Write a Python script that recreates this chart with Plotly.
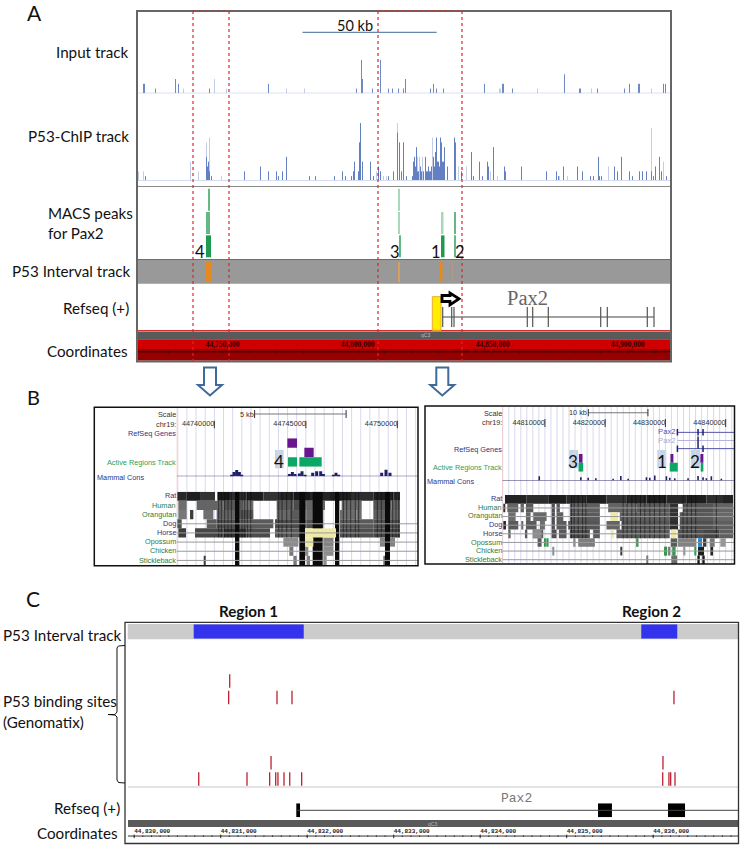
import plotly.graph_objects as go

W, H = 742, 847
LABEL_FONT = "Lato"
SANS = "Liberation Sans"

# ---------- Panel A data: display-bin index (bin = 1 screen column) and read counts ----------
A_START_KB = 44718.3
A_KB_PER_BIN = 1 / 2.7
A_BINS_TOTAL = 534

input_dark_bins = [6, 7, 18, 38, 41, 72, 131, 219, 224, 225, 235, 243, 251, 255, 261, 266, 268, 293, 296, 299, 306, 347, 365, 366, 375, 427, 442, 443, 460, 487, 492, 501, 502, 526, 528]
input_dark_counts = [2, 2, 1, 3, 2, 1, 2, 1, 7, 3, 1, 7, 1, 1, 1, 1, 3, 1, 2, 1, 1, 2, 2, 2, 1, 4, 1, 1, 1, 1, 2, 2, 2, 2, 2]
input_light_bins = [46, 77, 89, 149, 167, 362, 363, 400, 454, 514]
input_light_counts = [1, 3, 1, 1, 1, 1, 1, 1, 1, 1]

chip_light_bins = [1, 6, 53, 61, 69, 72, 84, 239, 246, 249, 260, 280, 282, 285, 295, 321, 329, 353, 360, 422, 430, 471, 514, 526]
chip_light_counts = [2, 2, 4, 2, 8, 9, 1, 2, 1, 1, 12, 5, 5, 5, 9, 3, 3, 2, 1, 1, 1, 3, 11, 4]
chip_dark_bins = [8, 69, 70, 71, 72, 74, 107, 123, 131, 139, 141, 145, 149, 172, 178, 197, 205, 208, 214, 216, 217, 221, 222, 223, 225, 233, 236, 241, 243, 251, 256, 260, 262, 264, 266, 269, 275, 276, 277, 278, 279, 280, 281, 283, 284, 286, 288, 289, 290, 291, 292, 293, 294, 296, 297, 298, 299, 300, 301, 302, 303, 304, 305, 306, 307, 310, 317, 318, 324, 334, 336, 342, 345, 350, 351, 356, 367, 368, 384, 409, 419, 421, 426, 440, 445, 453, 456, 461, 462, 464, 477, 480, 484, 492, 495, 502, 505, 509, 514, 516, 518, 522, 524, 529]
chip_dark_counts = [1, 5, 3, 4, 2, 1, 2, 3, 2, 2, 1, 2, 5, 1, 1, 1, 2, 1, 1, 2, 4, 2, 8, 12, 4, 4, 1, 3, 2, 1, 2, 10, 8, 2, 8, 1, 1, 4, 5, 3, 7, 2, 2, 3, 2, 2, 5, 2, 2, 3, 2, 2, 3, 5, 3, 6, 9, 4, 4, 3, 9, 8, 4, 4, 7, 3, 9, 8, 2, 6, 1, 4, 1, 4, 3, 7, 3, 2, 3, 2, 2, 1, 3, 3, 2, 1, 1, 5, 1, 1, 3, 2, 5, 2, 1, 2, 2, 2, 2, 1, 3, 5, 2, 1]

macs_row = [2, 1, 1, 0, 2, 1, 0, 1, 0, 1, 0]
macs_start = [71, 69, 71, 69, 261.5, 261.5, 262.5, 304, 304, 317.3, 317.3]
macs_end = [73, 70.3, 73, 74, 262.5, 262.5, 263.5, 306.5, 307.5, 318.3, 318.3]
macs_tone = ["mid", "mid", "mid", "dark", "pale", "pale", "mid", "pale", "dark", "mid", "mid"]

orange_start = [69, 261.5, 302.5, 315.2]
orange_end = [74, 262.8, 305.5, 316]
orange_tone = ["#e58a1f", "#d8a05f", "#e58a1f", "#b09a85"]

red_box_starts = [56, 241]
red_box_ends = [92, 325]
a_gene_exons = [305.7, 314.7, 317, 390.3, 395.7, 411.3, 463.7, 470.3, 510.3, 517]
a_tick_labels = ["44,750,000", "44,800,000", "44,850,000", "44,900,000"]
a_tick_kb = [44750, 44800, 44850, 44900]
a_minor_kb = list(range(44720, 44917, 10))

# ---------- Panel B data ----------
b_species = ["Rat", "Human", "Orangutan", "Dog", "Horse", "Opossum", "Chicken", "Stickleback"]
b_species_color = ["#33337f", "#2f7a3a", "#2f7a3a", "#33337f", "#33337f", "#2f7a3a", "#2f7a3a", "#2f7a3a"]

# left browser view: segments (row, start column, end column, grey level)
b1_rows = [0] * 14 + [1] * 11 + [2] * 12 + [3] * 8 + [4] * 7 + [5] * 3 + [6] * 3 + [7] * 5
b1_seg_start = [262, 290, 330, 382, 420, 470, 520, 570, 610, 660, 720, 780, 850, 910,
                265, 320, 400, 455, 560, 610, 650, 700, 755, 850, 905,
                265, 300, 340, 380, 440, 560, 600, 650, 750, 800, 850, 900,
                262, 350, 380, 450, 555, 650, 750, 850,
                265, 315, 400, 470, 555, 750, 850,
                580, 700, 870,
                598, 645, 700,
                342, 610, 650, 700, 880]
b1_seg_end = [290, 330, 375, 420, 470, 520, 570, 610, 660, 720, 780, 850, 910, 930,
              290, 400, 455, 490, 610, 650, 700, 705, 815, 905, 930,
              290, 310, 370, 440, 490, 600, 650, 700, 800, 815, 900, 930,
              275, 380, 450, 550, 650, 700, 850, 930,
              288, 400, 470, 540, 645, 850, 930,
              625, 730, 915,
              610, 655, 730,
              345, 620, 660, 710, 900]
b1_seg_grey = [40, 30, 50, 25, 45, 30, 50, 35, 22, 35, 30, 45, 30, 40,
               110, 100, 85, 110, 90, 75, 100, 100, 105, 85, 100,
               120, 60, 110, 100, 85, 105, 90, 105, 110, 110, 95, 105,
               80, 90, 80, 90, 75, 80, 90, 80,
               60, 70, 50, 75, 90, 80, 70,
               140, 130, 130,
               120, 140, 140,
               60, 120, 130, 140, 110]
b1_stripe_cols = [386, 394, 404, 414, 424, 456, 464, 472, 482, 566, 576, 590, 604, 760, 770, 782, 796, 806, 862, 874, 908, 918, 926]
b1_black_start = [435, 628, 668, 735, 885]
b1_black_end = [448, 645, 698, 748, 900]
b1_yellow_row = [4, 5]
b1_yellow_start = [645, 648]
b1_yellow_end = [738, 670]
b1_top_start = [592, 643]
b1_top_end = [621, 671]
b1_top_row = [2, 1]
b1_active_start = [594, 628]
b1_active_end = [621, 695]
b1_cons_cols = [425, 432, 440, 448, 455, 598, 607, 615, 628, 636, 645, 668, 680, 692, 700, 730, 738, 746, 875, 888, 900]
b1_cons_vals = [0.2, 0.6, 0.85, 0.6, 0.2, 0.3, 0.6, 0.3, 0.4, 0.7, 0.2, 0.5, 0.7, 0.7, 0.3, 0.2, 0.5, 0.2, 0.5, 0.9, 0.5]
b1_tick_kb = [44740, 44745, 44750]
b1_scale_kb = [44742.2, 44747.2]

# right browser view
b2_rows = [0] * 12 + [1] * 12 + [2] * 10 + [3] * 13 + [4] * 12 + [5] * 9 + [6] * 8 + [7] * 5
b2_seg_start = [255, 320, 385, 440, 500, 560, 620, 680, 740, 800, 860, 910,
                250, 262, 302, 318, 395, 410, 450, 565, 650, 750, 790, 880,
                265, 318, 340, 395, 410, 450, 600, 750, 780, 880,
                250, 265, 305, 318, 360, 395, 410, 445, 560, 605, 750, 780, 880,
                265, 315, 340, 395, 417, 450, 520, 590, 775, 850, 900,
                338, 460, 475, 650, 753, 775, 850, 870, 902,
                353, 400, 733, 745, 758, 793, 835, 872,
                603, 682, 755, 833, 849]
b2_seg_end = [320, 385, 440, 500, 560, 620, 680, 740, 800, 860, 910, 940,
              255, 295, 312, 340, 405, 420, 540, 650, 750, 775, 880, 940,
              287, 332, 380, 405, 430, 540, 750, 775, 880, 940,
              258, 295, 310, 350, 375, 405, 440, 540, 600, 750, 775, 880, 940,
              272, 322, 370, 410, 440, 510, 540, 750, 850, 900, 940,
              365, 467, 525, 655, 772, 830, 860, 885, 918,
              365, 403, 742, 752, 767, 797, 853, 880,
              607, 685, 772, 840, 855]
b2_seg_grey = [35, 45, 28, 40, 30, 50, 35, 28, 40, 30, 45, 35,
               50, 100, 100, 90, 80, 90, 95, 100, 90, 50, 85, 100,
               110, 100, 105, 80, 95, 90, 95, 50, 90, 105,
               40, 90, 100, 90, 110, 80, 90, 85, 100, 85, 45, 80, 95,
               100, 90, 95, 80, 90, 75, 90, 90, 80, 70, 95,
               140, 140, 125, 130, 90, 130, 60, 120, 150,
               90, 140, 130, 120, 130, 150, 30, 40,
               60, 120, 110, 20, 25]
b2_stripe_cols = [455, 463, 475, 488, 498, 610, 622, 636, 648, 662, 675, 690, 704, 720, 735, 790, 802, 815, 828, 890]
b2_green_row = [5, 5, 5, 6, 6, 6]
b2_green_start = [372, 382, 650, 733, 758, 825]
b2_green_end = [378, 386, 655, 742, 767, 830]
b2_yellow_row = [2, 4, 4]
b2_yellow_start = [572, 573, 755]
b2_yellow_end = [593, 582, 770]
b2_blue_row = [5]
b2_blue_start = [835]
b2_blue_end = [847]
b2_top_start = [477, 752, 842]
b2_top_end = [488, 761, 851]
b2_active_start = [476, 750, 843]
b2_active_end = [490, 774, 851]
b2_cons_cols = [358, 483, 505, 528, 580, 603, 625, 680, 690, 705, 740, 750, 765, 805, 835, 850, 860, 875, 905]
b2_cons_vals = [0.75, 0.6, 0.5, 0.4, 0.3, 0.8, 0.3, 0.6, 0.5, 0.9, 0.75, 0.5, 0.4, 0.4, 0.8, 0.6, 0.4, 0.75, 0.3]
b2_tick_kb = [44810, 44820, 44830, 44840]
b2_scale_kb = [44817.2, 44827.1]
b2_gene_start_col = 773
b2_gene_exons_col = [773, 835, 850]

# ---------- Panel C data ----------
c_region_start = [44830688, 44835862]
c_region_end = [44831960, 44836278]
c_site_row0 = [44830746, 44831304, 44831566, 44831636, 44831662, 44831732, 44831798, 44831936, 44836110, 44836182, 44836202, 44836252]
c_site_row1 = [44831582, 44836113]
c_site_row5 = [44831092, 44831651, 44831824, 44836240]
c_site_row6 = [44831104]
c_exon_start = [44831874, 44835362, 44836171]
c_exon_end = [44831917, 44835523, 44836368]
c_tick_bp = [44830000, 44831000, 44832000, 44833000, 44834000, 44835000, 44836000]
c_tick_labels = ["44,830,000", "44,831,000", "44,832,000", "44,833,000", "44,834,000", "44,835,000", "44,836,000"]
c_minor_bp = list(range(44830000, 44837000, 100))

# ---------- helpers ----------
fig = go.Figure()
layout = {}
shapes = []
annos = []
axis_id = [0]
LS = 15.2
SMALL = 7.3


def new_ax(x0, x1, y0, y1, xr, yr):
    axis_id[0] += 1
    i = axis_id[0]
    layout[f"xaxis{i}"] = dict(domain=[x0 / W, x1 / W], range=xr, visible=False, fixedrange=True, anchor=f"y{i}")
    layout[f"yaxis{i}"] = dict(domain=[1 - y1 / H, 1 - y0 / H], range=yr, visible=False, fixedrange=True, anchor=f"x{i}")
    return dict(xaxis=f"x{i}", yaxis=f"y{i}")


def seg(xs, y0s, y1s, ax, color, width=1):
    X, Y = [], []
    for x, a, b in zip(xs, y0s, y1s):
        X += [x, x, None]
        Y += [a, b, None]
    fig.add_trace(go.Scatter(x=X, y=Y, mode="lines", line=dict(color=color, width=width), hoverinfo="skip", showlegend=False, **ax))


def hline(x0, x1, y, ax, color, width=1):
    fig.add_trace(go.Scatter(x=[x0, x1], y=[y, y], mode="lines", line=dict(color=color, width=width), hoverinfo="skip", showlegend=False, **ax))


def vbars(starts, ends, base, height, ax, color):
    fig.add_trace(go.Bar(x=[(s + e) / 2 for s, e in zip(starts, ends)], width=[e - s for s, e in zip(starts, ends)],
                         y=height, base=base, marker=dict(color=color, line=dict(width=0)), hoverinfo="skip", showlegend=False, **ax))


def hbars(starts, ends, rows, ax, color):
    fig.add_trace(go.Bar(y=[r + 0.5 for r in rows], x=[e - s for s, e in zip(starts, ends)], base=starts, width=1, orientation="h",
                         marker=dict(color=color, line=dict(width=0)), hoverinfo="skip", showlegend=False, **ax))


def txt(x, y, s, size=14, anchor="left", color="#111", font=LABEL_FONT, bold=False):
    annos.append(dict(x=x / W, y=1 - y / H, xref="paper", yref="paper", text=f"<b>{s}</b>" if bold else s, showarrow=False,
                      xanchor=anchor, yanchor="middle", font=dict(size=size, color=color, family=font), borderpad=0, borderwidth=0))


def rect(x0, y0, x1, y1, fill=None, line=None, lw=1, layer="below"):
    shapes.append(dict(type="rect", xref="paper", yref="paper", x0=x0 / W, x1=x1 / W, y0=1 - y0 / H, y1=1 - y1 / H,
                       fillcolor=fill or "rgba(0,0,0,0)", line=dict(color=line or "rgba(0,0,0,0)", width=lw if line else 0), layer=layer))


def poly(pts, fill=None, line="#000", lw=1, close=True):
    p = " ".join(("M" if i == 0 else "L") + f"{x / W:.5f},{1 - y / H:.5f}" for i, (x, y) in enumerate(pts)) + (" Z" if close else "")
    shapes.append(dict(type="path", xref="paper", yref="paper", path=p, fillcolor=fill or "rgba(0,0,0,0)", line=dict(color=line, width=lw), layer="above"))


def a_kb(b):
    return A_START_KB + b * A_KB_PER_BIN


# ---------- Panel A ----------
AX0, AX1 = 137, 671
a_range = [a_kb(0), a_kb(A_BINS_TOTAL)]
ax_in = new_ax(AX0, AX1, 60, 93.3, a_range, [0, 7])
ax_ch = new_ax(AX0, AX1, 123, 181, a_range, [0, 12])
ax_ma = new_ax(AX0, AX1, 188, 258, a_range, [0, 3])
ax_iv = new_ax(AX0, AX1, 262, 282, a_range, [0, 1])
ax_ge = new_ax(AX0, AX1, 306.7, 327.3, a_range, [0, 1])
ax_co = new_ax(AX0, AX1, 339, 361, a_range, [0, 1])

rect(AX0, 259.3, AX1, 283.7, fill="#999999")
rect(AX0, 259, AX1, 260, fill="#6e6e6e")
rect(AX0, 186, AX1, 187, fill="#8a8a8a")
rect(AX0, 330, AX1, 331.5, fill="#d03030")
rect(AX0, 331.7, AX1, 339.3, fill="#5a5a5a")
rect(AX0, 339.3, AX1, 349, fill="#cf0000")
rect(AX0, 349, AX1, 360, fill="#960000")
rect(AX0, 360, AX1, 361.5, fill="#c06060")

for bins, counts, col, ax in [(input_light_bins, input_light_counts, "#c3cde8", ax_in),
                              (input_dark_bins, input_dark_counts, "#6f88c6", ax_in),
                              (chip_light_bins, chip_light_counts, "#c3cde8", ax_ch),
                              (chip_dark_bins, chip_dark_counts, "#6280c2", ax_ch)]:
    seg([a_kb(b + 0.5) for b in bins], [0] * len(bins), counts, ax, col, 1)
hline(a_range[0], a_range[1], 0, ax_in, "#aab6d6", 1)
hline(a_range[0], a_range[1], 0, ax_ch, "#d3dcf0", 2)

tone_cols = {"pale": "#a9d8b8", "mid": "#63b883", "dark": "#1f9a4f"}
for tone, col in tone_cols.items():
    idx = [i for i, t in enumerate(macs_tone) if t == tone]
    vbars([a_kb(macs_start[i]) for i in idx], [a_kb(macs_end[i]) for i in idx],
          [macs_row[i] + 0.03 for i in idx], [0.94] * len(idx), ax_ma, col)

vbars([a_kb(s) for s in orange_start], [a_kb(e) for e in orange_end], [0] * 4, [1] * 4, ax_iv, orange_tone)

hline(a_kb(305.7), a_kb(517), 0.5, ax_ge, "#444", 1)
seg([a_kb(b) for b in a_gene_exons], [0] * len(a_gene_exons), [1] * len(a_gene_exons), ax_ge, "#555", 1.2)
txt(527, 298, "Pax2", 20.5, "center", "#666", "Liberation Serif")

hline(a_range[0], a_range[1], 0.42, ax_co, "#220000", 1)
seg(a_minor_kb, [0.38] * len(a_minor_kb), [0.46] * len(a_minor_kb), ax_co, "#220000", 1)
fig.add_trace(go.Scatter(x=a_tick_kb, y=[0.73] * 4, text=[f"<b>{s}</b>" for s in a_tick_labels], mode="text", textposition="middle center",
                         textfont=dict(size=7.5, color="#300000", family="Liberation Serif"), hoverinfo="skip", showlegend=False, **ax_co))
txt(425, 335.5, "qC3", 5, "center", "#bbb", SANS)

rect(432.3, 296.7, 441, 330.3, fill="#ffee00", line="#f0a830", lw=1, layer="above")
poly([(442, 295.5), (450, 295.5), (450, 293), (459, 298.7), (450, 304.8), (450, 301.5), (442, 301.5)], fill="#ffffff", line="#000", lw=2.8)

rect(AX0, 11, AX1, 361.5, line="#666666", lw=2, layer="above")
for s, e in zip(red_box_starts, red_box_ends):
    xs = a_kb(s), a_kb(e)
    for x in xs:
        shapes.append(dict(type="line", xref="x1", yref="paper", x0=x, x1=x, y0=1 - 11 / H, y1=1 - 361 / H, line=dict(color="#e0242c", width=1.2, dash="dot"), layer="above"))
    shapes.append(dict(type="line", xref="x1", yref="paper", x0=xs[0], x1=xs[1], y0=1 - 11 / H, y1=1 - 11 / H, line=dict(color="#e0242c", width=1.2, dash="dot"), layer="above"))
shapes.append(dict(type="line", xref="paper", yref="paper", x0=302.5 / W, x1=436.7 / W, y0=1 - 32.3 / H, y1=1 - 32.3 / H, line=dict(color="#3f6a9a", width=1), layer="above"))

txt(27, 12.5, "A", 21)
txt(354.5, 25.5, "50 kb", 14.5, "center")
txt(128.5, 51.5, "Input track", LS, "right")
txt(128.5, 135.5, "P53-ChIP track", LS, "right")
txt(48, 212.5, "MACS peaks", LS)
txt(48, 232.5, "for Pax2", LS)
txt(129.5, 271, "P53 Interval track", LS, "right")
txt(128.5, 307.5, "Refseq (+)", LS, "right")
txt(128, 350.5, "Coordinates", LS, "right")
for x, s in [(199.5, "4"), (395, "3"), (436, "1"), (460, "2")]:
    txt(x, 251.5, s, 16.5, "center")

for cx in (210, 442.3):
    poly([(cx - 6, 367.5), (cx + 6, 367.5), (cx + 6, 385), (cx + 12, 385), (cx, 395.5), (cx - 12, 385), (cx - 6, 385)], fill="#ffffff", line="#3f6a9a", lw=2)

# ---------- Panel B ----------
txt(27, 397, "B", 20)
STRIPE = "rgba(10,10,10,0.55)"

# --- left view ---
def b1_kb(c):
    return 44740 + (c - 373) / 54.9


b1x = [b1_kb(260), b1_kb(984)]
rect(94.3, 407.3, 418, 565.7, line="#111", lw=1.5, layer="above")
ax_g1 = new_ax(176.7, 418, 407.5, 565.5, b1x, [0, 1])
gl = [44738 + 0.5 * i for i in range(27)]
seg(gl, [0] * len(gl), [1] * len(gl), ax_g1, "#d8d8f0", 1)
seg([b1x[0]], [0], [1], ax_g1, "#f4b8b8", 1)
ax_sc1 = new_ax(176.7, 418, 410, 418, b1x, [0, 1])
hline(b1_scale_kb[0], b1_scale_kb[1], 0.5, ax_sc1, "#777", 1)
seg(b1_scale_kb, [0, 0], [1, 1], ax_sc1, "#333", 1)
ax_t1 = new_ax(176.7, 418, 420.5, 428.5, b1x, [0, 1])
seg(b1_tick_kb, [0] * 3, [1] * 3, ax_t1, "#333", 1)
fig.add_trace(go.Scatter(x=b1_tick_kb, y=[0.5] * 3, text=[str(k * 1000) for k in b1_tick_kb], mode="text", textposition="middle left",
                         textfont=dict(size=SMALL, color="#333", family=SANS), hoverinfo="skip", showlegend=False, **ax_t1))
ax_gn1 = new_ax(176.7, 418, 438.3, 466.7, b1x, [0, 3])
rect(90 + 555 / 3, 400 + 150 / 3, 90 + 581 / 3, 400 + 205 / 3, fill="#c5d5e8")
hbars([b1_kb(c) for c in b1_top_start], [b1_kb(c) for c in b1_top_end], b1_top_row, ax_gn1, "#6a1590")
hbars([b1_kb(c) for c in b1_active_start], [b1_kb(c) for c in b1_active_end], [0, 0], ax_gn1, "#0ca665")
txt(90 + 568 / 3, 400 + 183 / 3, "4", 17, "center")
ax_cm1 = new_ax(176.7, 418, 469, 476.3, b1x, [0, 1])
hline(b1x[0], b1x[1], 0, ax_cm1, "#3a2a6a", 1)
vbars([b1_kb(c - 4.5) for c in b1_cons_cols], [b1_kb(c + 4.5) for c in b1_cons_cols], [0] * len(b1_cons_cols), b1_cons_vals, ax_cm1, "#20206a")
ax_r1 = new_ax(176.7, 418, 491.7, 565, b1x, [8, 0])
for r in range(3, 8):
    hline(b1x[0], b1x[1], r + 0.5, ax_r1, "#9a9a9a", 1)
hbars([b1_kb(c) for c in b1_seg_start], [b1_kb(c) for c in b1_seg_end], b1_rows, ax_r1, [f"rgb({g},{g},{g})" for g in b1_seg_grey])
vbars([b1_kb(c - 1.5) for c in b1_stripe_cols], [b1_kb(c + 1.5) for c in b1_stripe_cols], [0] * len(b1_stripe_cols), [5] * len(b1_stripe_cols), ax_r1, STRIPE)
vbars([b1_kb(c) for c in b1_black_start], [b1_kb(c) for c in b1_black_end], [0] * 5, [8] * 5, ax_r1, "#0a0a0a")
hbars([b1_kb(c) for c in b1_yellow_start], [b1_kb(c) for c in b1_yellow_end], b1_yellow_row, ax_r1, "#efeaa8")

txt(176, 414.3, "Scale", SMALL, "right", "#333", SANS)
txt(176, 424.5, "chr19:", SMALL, "right", "#333", SANS)
txt(176, 434, "RefSeq Genes", SMALL, "right", "#33337f", SANS)
txt(176, 462.7, "Active Regions Track", SMALL, "right", "#2aa05a", SANS)
txt(96.5, 477, "Mammal Cons", SMALL, "left", "#33337f", SANS)
txt(253.5, 414.3, "5 kb", SMALL, "right", "#333", SANS)
for i, (s, c) in enumerate(zip(b_species, b_species_color)):
    txt(176, 496 + i * 9.15, s, SMALL, "right", c, SANS)

# --- right view ---
def b2_kb(c):
    return 44810 + (c - 375) / 18.1


b2x = [b2_kb(247), b2_kb(943)]
rect(425, 406, 734.5, 564, line="#111", lw=1.5, layer="above")
ax_g2 = new_ax(502.3, 734, 406.5, 563.5, b2x, [0, 1])
gl2 = list(range(44803, 44842))
seg(gl2, [0] * len(gl2), [1] * len(gl2), ax_g2, "#d8d8f0", 1)
seg([b2x[0]], [0], [1], ax_g2, "#f4b8b8", 1)
ax_sc2 = new_ax(502.3, 734, 409, 416.5, b2x, [0, 1])
hline(b2_scale_kb[0], b2_scale_kb[1], 0.5, ax_sc2, "#777", 1)
seg(b2_scale_kb, [0, 0], [1, 1], ax_sc2, "#333", 1)
ax_t2 = new_ax(502.3, 734, 419, 427, b2x, [0, 1])
seg(b2_tick_kb, [0] * 4, [1] * 4, ax_t2, "#333", 1)
fig.add_trace(go.Scatter(x=b2_tick_kb, y=[0.5] * 4, text=[str(k * 1000) for k in b2_tick_kb], mode="text", textposition="middle left",
                         textfont=dict(size=SMALL, color="#333", family=SANS), hoverinfo="skip", showlegend=False, **ax_t2))
ax_iso = new_ax(502.3, 734, 428.3, 452.7, b2x, [3, 0])
hline(b2_kb(b2_gene_start_col), b2x[1], 0.5, ax_iso, "#5555aa", 1)
hline(b2_kb(b2_gene_start_col), b2x[1], 1.5, ax_iso, "#b4b4dc", 1)
hline(b2_kb(b2_gene_start_col), b2x[1], 2.5, ax_iso, "#5555aa", 1)
seg([b2_kb(c) for c in b2_gene_exons_col], [0.1] * 3, [0.9] * 3, ax_iso, "#1e1e78", 1.5)
seg([b2_kb(b2_gene_exons_col[0]), b2_kb(b2_gene_exons_col[2])], [2.1, 2.1], [2.9, 2.9], ax_iso, "#1e1e78", 1.5)
seg([b2_kb(b2_gene_exons_col[1])], [1], [2.5], ax_iso, "#1e1e78", 1.5)
txt(420 + 768 / 3, 431.5, "Pax2", SMALL + 0.4, "right", "#5555aa", SANS)
txt(420 + 768 / 3, 440.3, "Pax2", SMALL + 0.4, "right", "#aaaacc", SANS)
for c0, c1 in [(447, 474), (712, 739), (812, 840)]:
    rect(420 + c0 / 3, 400 + 150 / 3, 420 + c1 / 3, 400 + 205 / 3, fill="#c5d5e8")
ax_gn2 = new_ax(502.3, 734, 454, 471.7, b2x, [0, 2])
hbars([b2_kb(c) for c in b2_top_start], [b2_kb(c) for c in b2_top_end], [1] * 3, ax_gn2, "#6a1590")
hbars([b2_kb(c) for c in b2_active_start], [b2_kb(c) for c in b2_active_end], [0] * 3, ax_gn2, "#0ca665")
for c, s in [(460, "3"), (725, "1"), (825, "2")]:
    txt(420 + c / 3, 400 + 183 / 3, s, 17, "center")
ax_cm2 = new_ax(502.3, 734, 475, 480.5, b2x, [0, 1])
hline(b2x[0], b2x[1], 0, ax_cm2, "#3a2a6a", 1)
seg([b2_kb(c) for c in b2_cons_cols], [0] * len(b2_cons_cols), b2_cons_vals, ax_cm2, "#20206a", 1.6)
ax_r2 = new_ax(502.3, 734, 495, 564, b2x, [8, 0])
for r in range(1, 8):
    hline(b2x[0], b2x[1], r + 0.5, ax_r2, "#9a9a9a", 1)
hbars([b2_kb(c) for c in b2_seg_start], [b2_kb(c) for c in b2_seg_end], b2_rows, ax_r2, [f"rgb({g},{g},{g})" for g in b2_seg_grey])
vbars([b2_kb(c - 1.5) for c in b2_stripe_cols], [b2_kb(c + 1.5) for c in b2_stripe_cols], [0] * len(b2_stripe_cols), [5] * len(b2_stripe_cols), ax_r2, STRIPE)
hbars([b2_kb(c) for c in b2_green_start], [b2_kb(c) for c in b2_green_end], b2_green_row, ax_r2, "#2f9a4a")
hbars([b2_kb(c) for c in b2_yellow_start], [b2_kb(c) for c in b2_yellow_end], b2_yellow_row, ax_r2, "#efeaa8")
hbars([b2_kb(c) for c in b2_blue_start], [b2_kb(c) for c in b2_blue_end], b2_blue_row, ax_r2, "#2a86d0")

txt(501.5, 413.3, "Scale", SMALL, "right", "#333", SANS)
txt(501.5, 422.5, "chr19:", SMALL, "right", "#333", SANS)
txt(501.5, 449.7, "RefSeq Genes", SMALL, "right", "#33337f", SANS)
txt(501.5, 468, "Active Regions Track", SMALL, "right", "#2aa05a", SANS)
txt(426.7, 481.3, "Mammal Cons", SMALL, "left", "#33337f", SANS)
txt(587, 413, "10 kb", SMALL, "right", "#333", SANS)
for i, (s, c) in enumerate(zip(b_species, b_species_color)):
    txt(501.5, 498.5 + i * 8.7, s, SMALL, "right", c, SANS)

# ---------- Panel C ----------
CX0, CX1 = 127.7, 738
def c_bp(px):
    return 44831000 + (px - 220.7) / 86.5 * 1000


c_range = [c_bp(CX0), c_bp(CX1)]
rect(CX0, 624, CX1, 639.3, fill="#cccccc")
ax_ci = new_ax(CX0, CX1, 624.3, 638.7, c_range, [0, 1])
vbars(c_region_start, c_region_end, [0, 0], [1, 1], ax_ci, "#3333ee")
ax_cs = new_ax(CX0, CX1, 787.3 - 16.33 * 7, 787.3, c_range, [0, 7])
hline(c_range[0], c_range[1], 0, ax_cs, "#7a7a7a", 1)
for row, sites in [(0, c_site_row0), (1, c_site_row1), (5, c_site_row5), (6, c_site_row6)]:
    seg(sites, [row + 0.09] * len(sites), [row + 0.92] * len(sites), ax_cs, "#c02030", 1.3)
ax_cg = new_ax(CX0, CX1, 803.3, 817.3, c_range, [0, 1])
hline(c_exon_start[0], c_range[1], 0.5, ax_cg, "#444", 1)
vbars(c_exon_start, c_exon_end, [0] * 3, [1] * 3, ax_cg, "#000000")
txt(516.7, 798, "Pax2", 13, "center", "#777", "Liberation Mono")
rect(128, 820, CX1, 827, fill="#5a5a5a")
txt(432.7, 823.5, "qC3", 5, "center", "#bbb", SANS)
ax_cc = new_ax(CX0, CX1, 828, 840, c_range, [0, 1])
hline(c_range[0], c_range[1], 0.33, ax_cc, "#333", 1)
seg(c_minor_bp, [0.25] * len(c_minor_bp), [0.38] * len(c_minor_bp), ax_cc, "#333", 1)
seg(c_tick_bp, [0.15] * 7, [0.45] * 7, ax_cc, "#333", 1)
fig.add_trace(go.Scatter(x=c_tick_bp, y=[0.72] * 7, text=[f"<b>{s}</b>" for s in c_tick_labels], mode="text", textposition="middle right",
                         textfont=dict(size=6, color="#222", family="Liberation Mono"), hoverinfo="skip", showlegend=False, **ax_cc))
rect(125, 622.3, 738.5, 843.5, line="#333", lw=1.3, layer="above")
poly([(125, 645.5), (118.5, 646), (117, 648), (117, 712), (115, 714.5), (108, 714.5), (115, 715), (117, 717), (117, 780), (118.5, 782.5), (125, 783)], line="#111", lw=1, close=False)

txt(26, 598, "C", 21)
txt(248, 610.5, "Region 1", LS, "center", bold=True)
txt(651.7, 610.5, "Region 2", LS, "center", bold=True)
txt(3, 635, "P53 Interval track", LS)
txt(3, 701, "P53 binding sites", LS)
txt(3, 721.5, "(Genomatix)", LS)
txt(119.5, 807.5, "Refseq (+)", LS, "right")
txt(117.5, 832.5, "Coordinates", LS, "right")

fig.update_layout(width=W, height=H, margin=dict(l=0, r=0, t=0, b=0), paper_bgcolor="#ffffff", plot_bgcolor="rgba(0,0,0,0)",
                  showlegend=False, barmode="overlay", shapes=shapes, annotations=annos, **layout)
fig.write_html("out.html", config={"displayModeBar": False},
               post_script="document.body.style.margin='0';document.documentElement.style.overflow='hidden';")
